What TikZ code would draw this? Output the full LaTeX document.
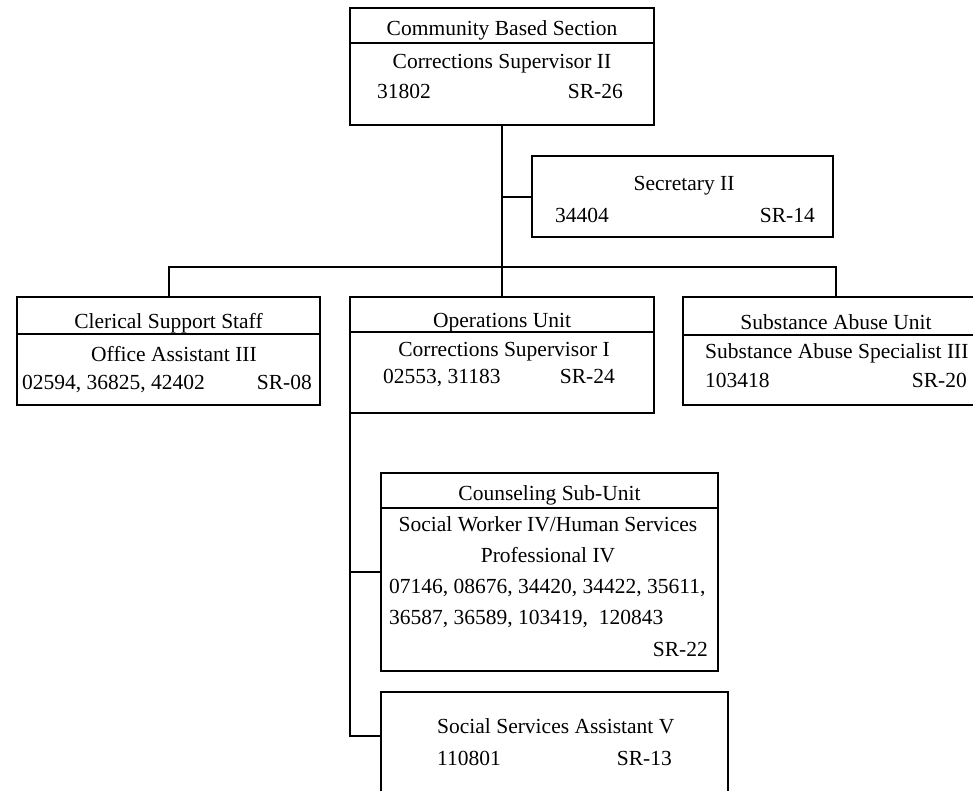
\documentclass[tikz,border=0pt]{standalone}
\usepackage{fontspec}
\setmainfont{Liberation Serif}
\begin{document}
\begin{tikzpicture}[x=1pt,y=-1pt,
  box/.style={draw, line width=2pt, inner sep=0pt, outer sep=0pt, anchor=north west},
  txt/.style={font=\fontsize{21.5}{26}\selectfont, inner sep=0pt},
  conn/.style={line width=2pt}]
\useasboundingbox (0,0) rectangle (973,790);

% ---- boxes
\node[box, minimum width=304pt, minimum height=35pt] (tH) at (350,8) {};
\node[box, minimum width=304pt, minimum height=82pt] (tB) at (350,43) {};
\node[box, minimum width=301pt, minimum height=81pt] (sec) at (532,156) {};
\node[box, minimum width=303pt, minimum height=37pt] (cH) at (17,297) {};
\node[box, minimum width=303pt, minimum height=71pt] (cB) at (17,334) {};
\node[box, minimum width=304pt, minimum height=35pt] (oH) at (350,297) {};
\node[box, minimum width=304pt, minimum height=81pt] (oB) at (350,332) {};
\node[box, minimum width=306pt, minimum height=38pt] (sH) at (683,297) {};
\node[box, minimum width=306pt, minimum height=70pt] (sB) at (683,335) {};
\node[box, minimum width=337pt, minimum height=35pt] (kH) at (381,473) {};
\node[box, minimum width=337pt, minimum height=163pt] (kB) at (381,508) {};
\node[box, minimum width=347pt, minimum height=120pt] (ssa) at (381,692) {};

% ---- texts
\node[txt, anchor=base] (tHt) at (502,35) {Community Based Section};
\node[txt, anchor=base] (tB1) at (502,68) {Corrections Supervisor II};
\node[txt, anchor=base west] (tB2) at (377,98) {31802};
\node[txt, anchor=base east] (tB3) at (623,98) {SR-26};

\node[txt, anchor=base] (sec1) at (684,190) {Secretary II};
\node[txt, anchor=base west] (sec2) at (555,222) {34404};
\node[txt, anchor=base east] (sec3) at (815,222) {SR-14};

\node[txt, anchor=base] (cHt) at (168.5,328) {Clerical Support Staff};
\node[txt, anchor=base] (cB1) at (174,361) {Office Assistant III};
\node[txt, anchor=base west] (cB2) at (22,389) {02594, 36825, 42402};
\node[txt, anchor=base east] (cB3) at (312,389) {SR-08};

\node[txt, anchor=base] (oHt) at (502,327) {Operations Unit};
\node[txt, anchor=base] (oB1) at (504,356) {Corrections Supervisor I};
\node[txt, anchor=base west] (oB2) at (383,383) {02553, 31183};
\node[txt, anchor=base east] (oB3) at (615,383) {SR-24};

\node[txt, anchor=base] (sHt) at (836,329) {Substance Abuse Unit};
\node[txt, anchor=base west] (sB1) at (705,358) {Substance Abuse Specialist III};
\node[txt, anchor=base west] (sB2) at (705,387) {103418};
\node[txt, anchor=base east] (sB3) at (967,387) {SR-20};

\node[txt, anchor=base] (kHt) at (549.5,500) {Counseling Sub-Unit};
\node[txt, anchor=base] (kB1) at (548,531) {Social Worker IV/Human Services};
\node[txt, anchor=base] (kB2) at (548,562) {Professional IV};
\node[txt, anchor=base west] (kB3) at (389,593) {07146, 08676, 34420, 34422, 35611,};
\node[txt, anchor=base west] (kB4) at (389,624) {36587, 36589, 103419,\ \ 120843};
\node[txt, anchor=base east] (kB5) at (708,656) {SR-22};

\node[txt, anchor=base west] (ssa1) at (437,733) {Social Services Assistant V};
\node[txt, anchor=base west] (ssa2) at (437,765) {110801};
\node[txt, anchor=base east] (ssa3) at (672,765) {SR-13};

% ---- connectors
\coordinate (bus) at (502,267);
\coordinate (kJ) at (381,572);
\coordinate (sJ) at (381,736);
\draw[conn] (tB.south) -- (oH.north);
\draw[conn] (cH.north) -- (cH.north |- bus) -- (sH.north |- bus) -- (sH.north);
\draw[conn] (sec.west) -- (sec.west -| tB.south);
\draw[conn] (oB.south west) -- (oB.south west |- sJ) -- (sJ);
\draw[conn] (oB.south west |- kJ) -- (kJ);
\end{tikzpicture}
\end{document}
